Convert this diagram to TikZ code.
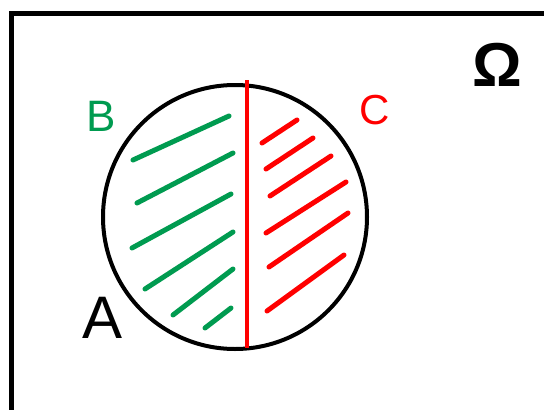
\documentclass[tikz,border=0pt]{standalone}
\usepackage{fontspec}
\setmainfont{Liberation Sans}
\usepackage{xcolor}
\definecolor{hGreen}{RGB}{0,155,80}
\definecolor{hRed}{RGB}{255,0,0}
\tikzset{
  frameline/.style={draw=black, line width=5pt},
  setline/.style={draw=black, line width=4pt},
  hatchG/.style={draw=hGreen, line width=5pt, line cap=round},
  hatchR/.style={draw=hRed, line width=5pt, line cap=round},
  setlabel/.style={inner sep=0pt, font=\fontsize{44}{44}\selectfont},
}

\begin{document}
\begin{tikzpicture}[x=1pt, y=-1pt]
  \useasboundingbox (0,0) rectangle (544,410);
  \clip (0,0) rectangle (544,410);
  \fill[white] (0,0) rectangle (544,410);
  % universe
  \draw[frameline] (11,13.5) rectangle (580,440);
  \node[setlabel, font=\bfseries\fontsize{62}{62}\selectfont] (omega) at (497,65) {Ω};
  % set A and split into B / C
  \draw[setline] (235,217) circle (132);
  \draw[hRed, line width=4pt] (247,80) -- (247,348);
  \node[setlabel, font=\fontsize{60}{60}\selectfont] (A) at (103,318) {A};
  \node[setlabel, text=hGreen] (B) at (101,116) {B};
  \node[setlabel, text=hRed, font=\fontsize{42}{42}\selectfont] (C) at (375,110) {C};
  % hatching
  \foreach \xa/\ya/\xb/\yb in {133/160/229/116, 137/203/233/153, 132/248/231/194,
      145/289/233/232, 173/315/233/269, 205/328/231/308}
    \draw[hatchG] (\xa,\ya) -- (\xb,\yb);
  \foreach \xa/\ya/\xb/\yb in {262/143/297/120, 266/169/313/138, 270/196/331/156,
      266/233/346/182, 269/267/348/213, 267/311/344/255}
    \draw[hatchR] (\xa,\ya) -- (\xb,\yb);
\end{tikzpicture}
\end{document}
